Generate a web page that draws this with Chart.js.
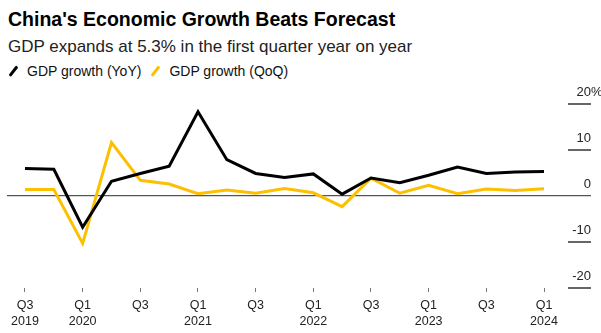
<!DOCTYPE html>
<html>
<head>
<meta charset="utf-8">
<script src="https://cdn.jsdelivr.net/npm/chart.js@4/dist/chart.umd.min.js"></script>
<style>
  html, body { margin: 0; padding: 0; background: #fff; }
  body { width: 601px; height: 333px; position: relative; overflow: hidden; font-family: "Liberation Sans", Arial, sans-serif; }
  #title { position: absolute; left: 8px; top: 10px; font-size: 19.5px; line-height: 19.5px; font-weight: bold; color: #000; white-space: nowrap; }
  #subtitle { position: absolute; left: 8px; top: 38px; font-size: 17px; line-height: 17px; color: #222; white-space: nowrap; }
  #legend { position: absolute; left: 8px; top: 64px; font-size: 14px; line-height: 14px; color: #111; white-space: nowrap; }
  .item { display: inline-block; position: relative; padding-left: 19px; margin-right: 9px; }
  .sw { position: absolute; left: 4px; top: 1px; width: 2.5px; height: 12px; transform: rotate(38deg); border-radius: 1px; }
  #wrap { position: absolute; left: 0; top: 0; width: 601px; height: 333px; }
</style>
</head>
<body>
<div id="title">China's Economic Growth Beats Forecast</div>
<div id="subtitle">GDP expands at 5.3% in the first quarter year on year</div>
<div id="legend">
  <span class="item"><span class="sw" style="background:#000"></span>GDP growth (YoY)</span><span class="item"><span class="sw" style="background:#fcc000"></span>GDP growth (QoQ)</span>
</div>
<div id="wrap"><canvas id="c" width="601" height="333"></canvas></div>
<script>
const quarters = ["Q3 2019","Q4 2019","Q1 2020","Q2 2020","Q3 2020","Q4 2020","Q1 2021","Q2 2021","Q3 2021","Q4 2021","Q1 2022","Q2 2022","Q3 2022","Q4 2022","Q1 2023","Q2 2023","Q3 2023","Q4 2023","Q1 2024"];
const yoy = [6.0, 5.8, -6.8, 3.2, 4.9, 6.5, 18.3, 7.9, 4.9, 4.0, 4.8, 0.4, 3.9, 2.9, 4.5, 6.3, 4.9, 5.2, 5.3];
const qoq = [1.4, 1.4, -10.3, 11.6, 3.4, 2.6, 0.5, 1.3, 0.6, 1.6, 0.7, -2.3, 3.9, 0.6, 2.3, 0.5, 1.5, 1.2, 1.6];
const xTickLabels = {0:["Q3","2019"],2:["Q1","2020"],4:["Q3",""],6:["Q1","2021"],8:["Q3",""],10:["Q1","2022"],12:["Q3",""],14:["Q1","2023"],16:["Q3",""],18:["Q1","2024"]};
const yTicks = [20, 10, 0, -10, -20];

const yLabelPlugin = {
  id: 'yLabels',
  afterDraw(chart) {
    const ctx = chart.ctx, ys = chart.scales.y, area = chart.chartArea;
    ctx.save();
    ctx.font = '13px "Liberation Sans", Arial, sans-serif';
    ctx.fillStyle = '#222';
    ctx.textAlign = 'right';
    ctx.textBaseline = 'alphabetic';
    yTicks.forEach(v => {
      const py = Math.round(ys.getPixelForValue(v));
      if (v !== 0) {
        ctx.fillStyle = '#666';
        ctx.fillRect(area.right - 23, py - 1, 23, 2);
        ctx.fillStyle = '#222';
      }
      ctx.fillText(String(v), area.right, py - 8);
      if (v === 20) {
        ctx.textAlign = 'left';
        ctx.fillText('%', area.right, py - 8);
        ctx.textAlign = 'right';
      }
    });
    ctx.restore();
  }
};

new Chart(document.getElementById('c'), {
  type: 'line',
  data: {
    datasets: [
      { label: 'GDP growth (YoY)', data: yoy.map((v, i) => ({x: i, y: v})), borderColor: '#000', borderWidth: 3, pointRadius: 0, tension: 0, order: 1 },
      { label: 'GDP growth (QoQ)', data: qoq.map((v, i) => ({x: i, y: v})), borderColor: '#fcc000', borderWidth: 3, pointRadius: 0, tension: 0, order: 2 }
    ]
  },
  options: {
    responsive: false,
    animation: false,
    layout: { padding: { top: 104, left: 7, right: 10, bottom: 0 } },
    plugins: { legend: { display: false }, tooltip: { enabled: false } },
    scales: {
      x: {
        type: 'linear',
        min: -0.624,
        max: 19.63,
        afterBuildTicks(scale) { scale.ticks = Object.keys(xTickLabels).map(k => ({value: +k})); },
        afterFit(scale) { scale.height = 45; },
        border: { display: false },
        grid: { drawOnChartArea: false, drawTicks: true, tickLength: 4, color: '#777', lineWidth: 1 },
        ticks: {
          padding: 6,
          maxRotation: 0,
          autoSkip: false,
          color: '#222',
          font: { family: '"Liberation Sans", Arial, sans-serif', size: 12.5, lineHeight: 1.25 },
          callback: (v) => xTickLabels[v] || ''
        }
      },
      y: {
        position: 'right',
        min: -20,
        max: 20,
        afterBuildTicks(scale) { scale.ticks = yTicks.map(v => ({value: v})); },
        afterFit(scale) { scale.width = 0; },
        border: { display: false },
        ticks: { display: false },
        grid: {
          drawTicks: false,
          color: (c) => c.tick && c.tick.value === 0 ? '#555' : 'rgba(0,0,0,0)',
          lineWidth: 1.2
        }
      }
    }
  },
  plugins: [yLabelPlugin]
});
</script>
</body>
</html>
